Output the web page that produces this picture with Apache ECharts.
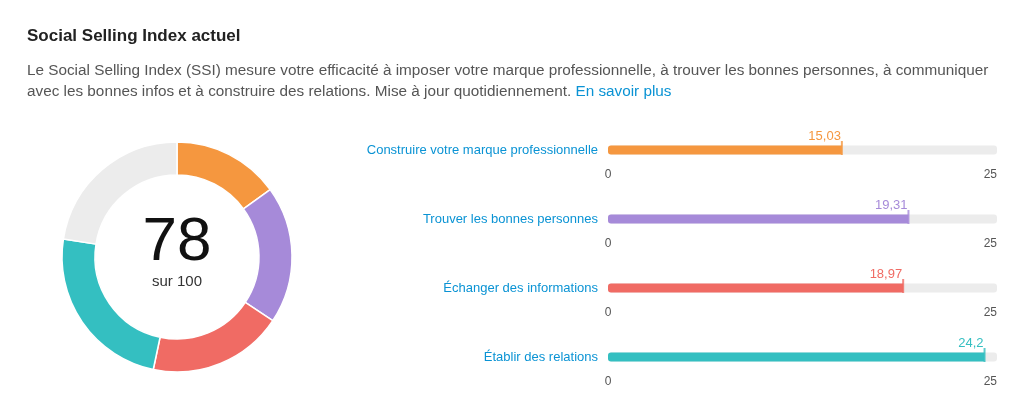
<!DOCTYPE html>
<html><head><meta charset="utf-8">
<script src="https://cdn.jsdelivr.net/npm/echarts@6/dist/echarts.min.js"></script>
<style>html,body{margin:0;padding:0;background:#fff}#c{width:1024px;height:407px}</style>
</head><body><div id="c"></div>
<script>
var names = ['Construire votre marque professionnelle','Trouver les bonnes personnes','Échanger des informations','Établir des relations'];
var values = [15.03, 19.31, 18.97, 24.2];
var labels = ['15,03','19,31','18,97','24,2'];
var colors = ['#f5973f','#a68ad9','#f06b64','#34bfc1'];
var total = 78;
var maxV = 25;

var chart = echarts.init(document.getElementById('c'));
var font = 'Helvetica, "Liberation Sans", Arial, sans-serif';
var rowsY = [150, 219, 288, 357];
var grids = [], xAxes = [], yAxes = [], series = [];

rowsY.forEach(function(y, i){
	grids.push({left: 608, width: 389, top: y - 5, height: 10});
	xAxes.push({gridIndex: i, type: 'value', min: 0, max: maxV, interval: 25,
		axisLine: {show: false}, axisTick: {show: false}, splitLine: {show: false},
		axisLabel: {margin: 14, color: '#555', fontSize: 12, fontFamily: font,
			alignMinLabel: 'center', alignMaxLabel: 'right'}});
	yAxes.push({gridIndex: i, type: 'category', data: [names[i]],
		axisLine: {show: false}, axisTick: {show: false},
		axisLabel: {margin: 10, color: '#0a93d4', fontSize: 13, fontFamily: font}});
	series.push({type: 'bar', xAxisIndex: i, yAxisIndex: i, data: [values[i]], barWidth: 9,
		showBackground: true, backgroundStyle: {color: '#ececec', borderRadius: 3},
		itemStyle: {color: colors[i], borderRadius: [3, 0, 0, 3]},
		label: {show: true, position: 'insideTopRight', offset: [4, -21], color: colors[i],
			fontSize: 13, fontFamily: font, formatter: labels[i]}, silent: true});
	series.push({type: 'scatter', xAxisIndex: i, yAxisIndex: i, data: [[values[i], 0]],
		symbol: 'rect', symbolSize: [2, 14], symbolOffset: [0, -2], itemStyle: {color: colors[i]}, silent: true});
});

var pieData = names.map(function(n, i){ return {name: n, value: values[i], itemStyle: {color: colors[i]}}; });
pieData.push({name: 'reste', value: 100 - values.reduce(function(a,b){return a+b;}, 0), itemStyle: {color: '#ececec'}});

series.push({type: 'pie', center: [177, 257], radius: [82, 115], startAngle: 90, clockwise: true,
	label: {show: false}, labelLine: {show: false}, silent: true,
	itemStyle: {borderColor: '#fff', borderWidth: 1.5}, data: pieData});

chart.setOption({
	animation: false,
	grid: grids, xAxis: xAxes, yAxis: yAxes, series: series,
	graphic: [
		{type: 'text', x: 27, y: 28, style: {text: 'Social Selling Index actuel', font: 'bold 17px ' + font, fill: '#222'}},
		{type: 'text', x: 27, y: 60, style: {
			text: 'Le Social Selling Index (SSI) mesure votre efficacité à imposer votre marque professionnelle, à trouver les bonnes personnes, à communiquer\navec les bonnes infos et à construire des relations. Mise à jour quotidiennement. {a|En savoir plus}',
			font: '15.3px ' + font, fill: '#555', lineHeight: 21,
			rich: {a: {fill: '#0a93d4', font: '15.3px ' + font}}}},
		{type: 'text', x: 177, y: 212, style: {text: String(total), font: '62px ' + font, fill: '#111', align: 'center'}},
		{type: 'text', x: 177, y: 274, style: {text: 'sur 100', font: '15px ' + font, fill: '#333', align: 'center'}}
	]
});
</script></body></html>
